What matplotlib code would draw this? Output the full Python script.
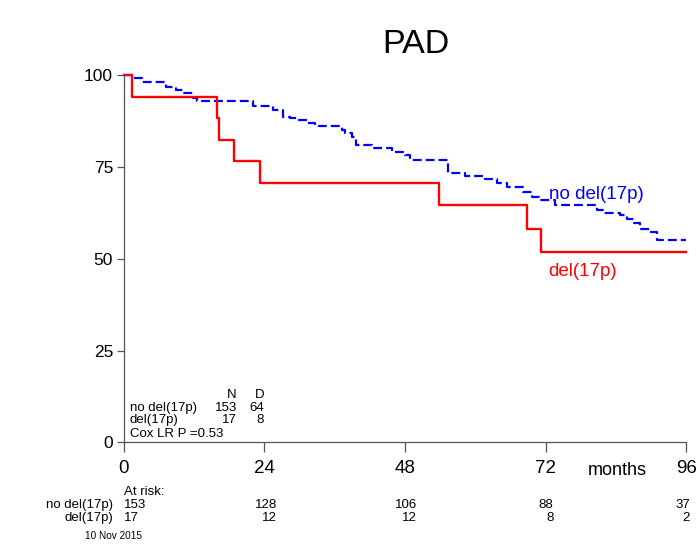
import matplotlib
matplotlib.use("Agg")
import matplotlib.pyplot as plt

plt.rcParams['font.family'] = ['Liberation Sans', 'DejaVu Sans']

# Kaplan-Meier curves (months, % surviving)
no_del_t = [0, 1.5, 3.2, 7.2, 8.9, 10.1, 11.8, 12.6, 22.0, 25.5, 27.2, 28.4, 29.8, 31.5,
            32.6, 37.2, 37.8, 38.9, 39.7, 42.3, 45.7, 48.0, 48.9, 55.4, 58.3, 61.7, 63.7,
            65.4, 68.2, 69.6, 70.8, 73.6, 80.7, 81.9, 84.7, 85.9, 87.0, 88.1, 89.8, 91.0, 96]
no_del_s = [100, 99.2, 98.1, 96.6, 96.0, 95.1, 93.7, 92.8, 91.5, 90.5, 88.6, 88.2, 87.7, 86.8,
            86.2, 85.0, 84.1, 83.2, 80.9, 80.0, 79.1, 78.2, 76.8, 73.2, 72.5, 71.6, 70.5,
            69.4, 68.2, 66.7, 65.9, 64.6, 63.2, 62.5, 61.9, 60.9, 59.6, 58.2, 57.3, 55.0, 55.0]

del_t = [0, 1.4, 16.0, 16.3, 18.8, 23.2, 53.8, 68.8, 71.2, 96]
del_s = [100, 94.1, 88.2, 82.4, 76.5, 70.6, 64.7, 58.2, 51.8, 51.8]

# summary table
groups = ["no del(17p)", "del(17p)"]
n_pat = [153, 17]
n_dead = [64, 8]
p_text = "Cox LR P =0.53"

# numbers at risk
risk_months = [0, 24, 48, 72, 96]
risk_no_del = [153, 128, 106, 88, 37]
risk_del = [17, 12, 12, 8, 2]

x_ticks = [0, 24, 48, 72, 96]
y_ticks = [0, 25, 50, 75, 100]

fig = plt.figure(figsize=(6.97, 5.52), dpi=100)
ax = fig.add_axes([0.1772, 0.1984, 0.8077, 0.6658])

ax.step(no_del_t, no_del_s, where="post", color="blue", lw=1.6,
        dashes=(4, 1.8), clip_on=False)
ax.step(del_t, del_s, where="post", color="red", lw=1.7, clip_on=False)

ax.set_xlim(0, 96)
ax.set_ylim(0, 100)
for side in ["top", "right"]:
    ax.spines[side].set_visible(False)
for side in ["left", "bottom"]:
    ax.spines[side].set_color("#555555")
    ax.spines[side].set_linewidth(0.9)

ax.set_xticks(x_ticks)
ax.set_yticks(y_ticks)
ax.tick_params(axis="x", length=7.5, width=0.9, color="#555555", pad=5, labelsize=13.5)
ax.tick_params(axis="y", length=5, width=0.9, color="#555555", pad=2.5, labelsize=12.5)

# curve labels
ax.text(72.5, 66.3, "no del(17p)", color="blue", fontsize=13.5, va="baseline")
ax.text(72.4, 45.3, "del(17p)", color="red", fontsize=13.5, va="baseline")

# x axis unit
ax.text(79.25, -8.84, "months", fontsize=13, va="baseline", clip_on=False)

# N / D table
fs = 9.5
ax.text(19.35, 12.0, "N", fontsize=fs, ha="right", va="baseline")
ax.text(23.96, 12.0, "D", fontsize=fs, ha="right", va="baseline")
for i, yb in enumerate([8.6, 5.4]):
    ax.text(1.1, yb, groups[i], fontsize=fs, va="baseline")
    ax.text(19.35, yb, str(n_pat[i]), fontsize=fs, ha="right", va="baseline")
    ax.text(23.96, yb, str(n_dead[i]), fontsize=fs, ha="right", va="baseline")
ax.text(1.1, 1.4, p_text, fontsize=fs, va="baseline")

# at risk table
ax.text(0, -14.3, "At risk:", fontsize=fs, va="baseline", clip_on=False)
risk_x = [0, 26.2, 50.0, 73.3, 96.6]
for yb, name, vals in [(-17.9, groups[0], risk_no_del), (-21.4, groups[1], risk_del)]:
    ax.text(-1.75, yb, name, fontsize=fs, ha="right", va="baseline", clip_on=False)
    for j, v in enumerate(vals):
        ha = "left" if j == 0 else "right"
        ax.text(risk_x[j], yb, str(v), fontsize=fs, ha=ha, va="baseline", clip_on=False)

fig.text(415.5 / 697, 1 - 52.7 / 552, "PAD", fontsize=24.5, ha="center", va="baseline")
fig.text(85 / 697, 1 - 539.3 / 552, "10 Nov 2015", fontsize=7.2, va="baseline")

fig.savefig("out.png", dpi=100)
